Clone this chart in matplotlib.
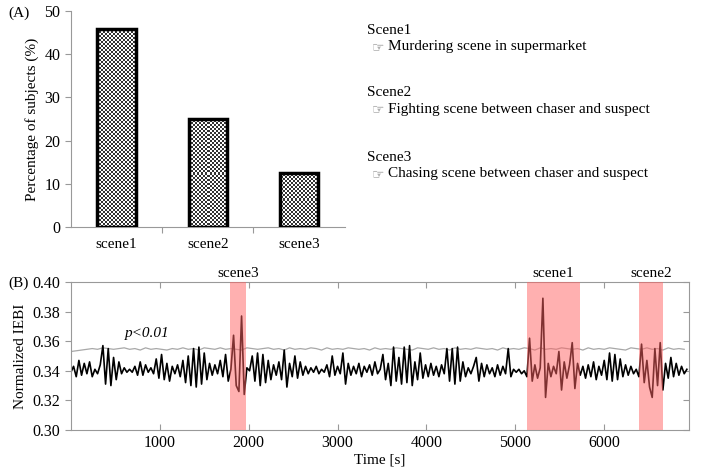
import numpy as np
import matplotlib
matplotlib.use('Agg')
import matplotlib.pyplot as plt

plt.rcParams['font.family'] = ['Liberation Serif', 'DejaVu Sans']

# (A) bar data
scenes = ['scene1', 'scene2', 'scene3']
percent = [45.8, 25.0, 12.5]

scene_titles = ['Scene1', 'Scene2', 'Scene3']
scene_desc = ['Murdering scene in supermarket',
              'Fighting scene between chaser and suspect',
              'Chasing scene between chaser and suspect']

# (B) normalized IEBI, sampled every 30 s
dt = 30
iebi = [0.339, 0.343, 0.336, 0.347, 0.337, 0.345, 0.338, 0.346, 0.336, 0.341,
        0.338, 0.344, 0.357, 0.331, 0.355, 0.330, 0.349, 0.334, 0.346, 0.338,
        0.342, 0.339, 0.341, 0.339, 0.343, 0.337, 0.346, 0.337, 0.344, 0.339,
        0.342, 0.338, 0.348, 0.335, 0.351, 0.334, 0.345, 0.333, 0.343, 0.338,
        0.344, 0.336, 0.347, 0.332, 0.350, 0.330, 0.355, 0.329, 0.356, 0.331,
        0.352, 0.334, 0.345, 0.337, 0.344, 0.338, 0.347, 0.336, 0.351, 0.333,
        0.341, 0.364, 0.330, 0.326, 0.377, 0.324, 0.342, 0.340, 0.350, 0.333,
        0.352, 0.330, 0.351, 0.332, 0.347, 0.334, 0.344, 0.337, 0.346, 0.334,
        0.354, 0.329, 0.345, 0.336, 0.350, 0.335, 0.346, 0.337, 0.343, 0.338,
        0.342, 0.339, 0.343, 0.338, 0.341, 0.339, 0.344, 0.336, 0.350, 0.337,
        0.343, 0.338, 0.352, 0.331, 0.345, 0.337, 0.343, 0.338, 0.345, 0.336,
        0.343, 0.339, 0.344, 0.337, 0.346, 0.338, 0.341, 0.351, 0.334, 0.345,
        0.330, 0.356, 0.333, 0.349, 0.331, 0.356, 0.332, 0.357, 0.330, 0.346,
        0.334, 0.352, 0.335, 0.344, 0.336, 0.345, 0.337, 0.343, 0.336, 0.344,
        0.338, 0.355, 0.333, 0.355, 0.331, 0.356, 0.333, 0.346, 0.336, 0.342,
        0.338, 0.343, 0.349, 0.333, 0.345, 0.336, 0.344, 0.338, 0.342, 0.336,
        0.344, 0.337, 0.343, 0.338, 0.355, 0.336, 0.341, 0.339, 0.341, 0.338,
        0.340, 0.336, 0.362, 0.333, 0.344, 0.335, 0.342, 0.389, 0.322, 0.345,
        0.336, 0.343, 0.338, 0.353, 0.327, 0.346, 0.335, 0.344, 0.359, 0.328,
        0.345, 0.337, 0.343, 0.335, 0.344, 0.336, 0.346, 0.334, 0.343, 0.337,
        0.347, 0.334, 0.352, 0.333, 0.351, 0.334, 0.348, 0.336, 0.344, 0.337,
        0.343, 0.338, 0.341, 0.336, 0.358, 0.332, 0.347, 0.329, 0.322, 0.355,
        0.330, 0.359, 0.327, 0.345, 0.335, 0.349, 0.336, 0.345, 0.337, 0.343,
        0.338, 0.341]

# p<0.01 threshold, sampled every 60 s
dt_thr = 60
thresh = [0.353, 0.3535, 0.354, 0.3545, 0.355, 0.3545, 0.3555, 0.355, 0.3545, 0.355,
          0.3555, 0.3545, 0.355, 0.354, 0.3555, 0.3545, 0.355, 0.3545, 0.354, 0.355,
          0.3545, 0.3555, 0.3545, 0.355, 0.354, 0.3555, 0.355, 0.3545, 0.3555, 0.3545,
          0.355, 0.3545, 0.354, 0.3555, 0.355, 0.3545, 0.355, 0.3555, 0.3545, 0.355,
          0.354, 0.3555, 0.3545, 0.355, 0.3545, 0.3555, 0.355, 0.354, 0.3555, 0.3545,
          0.355, 0.3545, 0.3555, 0.355, 0.3545, 0.355, 0.354, 0.3555, 0.3545, 0.355,
          0.3545, 0.3555, 0.355, 0.3545, 0.354, 0.3555, 0.355, 0.3545, 0.3555, 0.3545,
          0.355, 0.354, 0.3555, 0.3545, 0.355, 0.3545, 0.3555, 0.355, 0.3545, 0.355,
          0.354, 0.3555, 0.3545, 0.355, 0.3545, 0.3555, 0.355, 0.354, 0.3555, 0.3545,
          0.355, 0.3545, 0.3555, 0.355, 0.3545, 0.355, 0.354, 0.3555, 0.3545, 0.355,
          0.3545, 0.3555, 0.355, 0.3545, 0.354, 0.3555, 0.355, 0.3545, 0.3555, 0.3545,
          0.355, 0.354, 0.3555, 0.3545, 0.355, 0.3545]

span_names = ['scene3', 'scene1', 'scene2']
span_start = [1790, 5130, 6390]
span_end = [1975, 5725, 6665]

fig = plt.figure(figsize=(7.02, 4.69), dpi=100)

# ---- (A) ----
ax1 = fig.add_axes([0.101, 0.516, 0.390, 0.4606])
bars = ax1.bar(range(len(scenes)), percent, width=0.42, color='none',
               edgecolor='black', linewidth=2.5, zorder=3)
# checkerboard fill clipped to each bar
ny, nx = 108, 137
checker = (np.add.outer(np.arange(ny), np.arange(nx)) % 2).astype(float)
for b in bars:
    im = ax1.imshow(checker, cmap='gray', vmin=-0.25, vmax=1, extent=[-0.5, 2.5, 0, 50],
                    aspect='auto', interpolation='nearest', zorder=2)
    im.set_clip_path(b)
ax1.set_xlim(-0.5, 2.5)
ax1.set_ylim(0, 50)
ax1.set_xticks([0.5, 1.5])
ax1.set_xticklabels([])
ax1.tick_params(axis='x', length=4, color='#999999')
for i, s in enumerate(scenes):
    ax1.text(i, -2.5, s, ha='center', va='top', fontsize=11)
ax1.set_yticks([0, 10, 20, 30, 40, 50])
ax1.tick_params(axis='y', labelsize=11.5, length=4, color='#999999')
ax1.set_ylabel('Percentage of subjects (%)', fontsize=11)
for sp in ['top', 'right']:
    ax1.spines[sp].set_visible(False)
for sp in ['left', 'bottom']:
    ax1.spines[sp].set_color('#999999')
fig.text(0.012, 0.972, '(A)', fontsize=11, va='center')

ys = [0.936, 0.802, 0.665]
for t, d, y in zip(scene_titles, scene_desc, ys):
    fig.text(0.523, y, t, fontsize=11, va='center')
    fig.text(0.529, y - 0.036, '\u261e', fontsize=10, color='#888888', va='center',
             family=['DejaVu Sans'])
    fig.text(0.553, y - 0.036, d, fontsize=11, va='center')

# ---- (B) ----
ax2 = fig.add_axes([0.101, 0.0832, 0.880, 0.3156])
t = np.arange(len(iebi)) * dt
tt = np.arange(len(thresh)) * dt_thr
ax2.plot(tt, thresh, color='#a8a8a8', lw=0.9, zorder=1)
ax2.plot(t, iebi, color='black', lw=1.2, zorder=2)
for name, a, b in zip(span_names, span_start, span_end):
    ax2.axvspan(a, b, color='#ff6262', alpha=0.5, lw=0, zorder=3)
    ax2.text((a + b) / 2, 0.4015, name, ha='center', va='bottom', fontsize=11)
ax2.text(855, 0.3605, 'p<0.01', style='italic', ha='center', va='bottom', fontsize=11)
ax2.set_xlim(0, 6950)
ax2.set_ylim(0.30, 0.40)
ax2.set_xticks([1000, 2000, 3000, 4000, 5000, 6000])
ax2.set_yticks([0.30, 0.32, 0.34, 0.36, 0.38, 0.40])
ax2.set_yticklabels(['0.30', '0.32', '0.34', '0.36', '0.38', '0.40'])
ax2.tick_params(axis='x', direction='in', top=True, labelsize=11.5, length=4, color='#999999')
ax2.tick_params(axis='y', direction='out', labelsize=11.5, length=4, color='#999999')
ax2.tick_params(axis='y', which='both', right=True)
for tk in ax2.yaxis.get_major_ticks():
    tk.tick2line.set_marker(matplotlib.lines.TICKLEFT)
ax2.set_xlabel('Time [s]', fontsize=11, labelpad=2)
ax2.set_ylabel('Normalized IEBI', fontsize=11)
for sp in ax2.spines.values():
    sp.set_color('#999999')
fig.text(0.012, 0.397, '(B)', fontsize=11, va='center')

fig.savefig('out.png', dpi=100)
